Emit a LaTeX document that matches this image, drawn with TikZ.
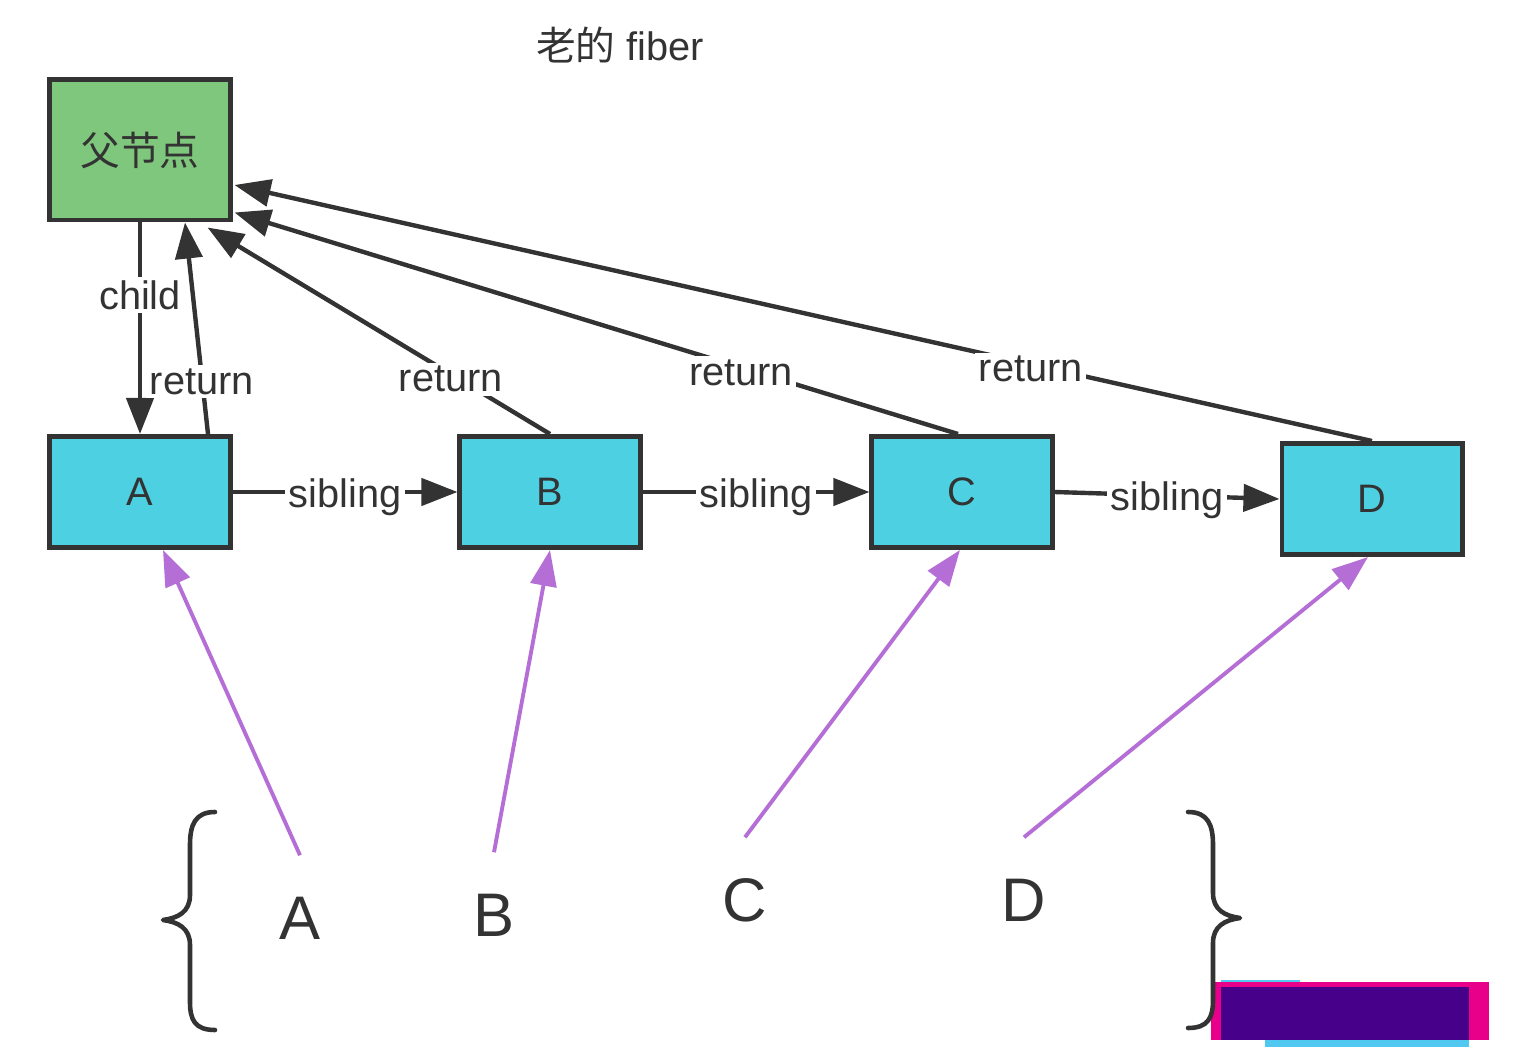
\documentclass[tikz,border=0pt]{standalone}
\usepackage{fontspec}
\setmainfont{Liberation Sans}
\newfontfamily\cjk{Noto Sans CJK SC}
\usetikzlibrary{arrows.meta,calc}
\definecolor{fibergreen}{RGB}{128,199,126}
\definecolor{fibercyan}{RGB}{77,208,225}
\definecolor{linkgray}{RGB}{51,51,51}
\definecolor{mapviolet}{RGB}{180,110,214}
\definecolor{markpink}{RGB}{232,0,138}
\definecolor{markindigo}{RGB}{70,0,138}
\definecolor{marksky}{RGB}{80,200,240}
\begin{document}
\begin{tikzpicture}[x=0.01cm, y=-0.01cm,
  fiber/.style={draw=linkgray, line width=1.4pt, fill=fibercyan, minimum width=1.8cm, minimum height=1.11cm, inner sep=0pt, text=linkgray, font=\fontsize{11.3}{13}\selectfont},
  link/.style={-{Triangle[length=0.36cm,width=0.27cm]}, draw=linkgray, line width=1.25pt},
  tag/.style={fill=white, inner sep=1pt, yshift=-0.05cm, text=linkgray, font=\fontsize{11.3}{13}\selectfont},
  elem/.style={inner sep=0pt, minimum height=1.24cm, text=linkgray, font=\fontsize{17.5}{20}\selectfont},
  map/.style={-{Triangle[length=0.36cm,width=0.26cm]}, draw=mapviolet, line width=1.1pt},
  brace/.style={draw=linkgray, line width=1.3pt, line cap=round, line join=round}]
\useasboundingbox (0,0) rectangle (1530,1064);
\node (title) at (620,45) [text=linkgray, font=\fontsize{11.3}{13}\selectfont] {{\cjk 老的} fiber};
\node (parent) at (140,150) [fiber, fill=fibergreen, minimum height=1.4cm] {{\cjk 父节点}};
\node (A) at (140,492) [fiber] {A};
\node (B) at (550,492) [fiber] {B};
\node (C) at (962,492) [fiber] {C};
\node (D) at (1372,499) [fiber] {D};
\node (elemA) at (300,918) [elem] {A};
\node (elemB) at (494,915) [elem] {B};
\node (elemC) at (745,900) [elem] {C};
\node (elemD) at (1024,900) [elem] {D};
% child and return links
\draw [link] (parent.south) -- node [tag, pos=0.32] {child} (A.north);
\draw [link] ($(A.north)+(68,0)$) -- node [tag, pos=0.27] {return} ($(parent.south)+(45,0)$);
\draw [link] (B.north) -- node [tag, pos=0.29] {return} ($(parent.south east)+(-25,5)$);
\draw [link] ($(C.north)+(-4,0)$) -- node [tag, pos=0.3] {return} ($(parent.south east)+(2,-10)$);
\draw [link] (D.north) -- node [tag, pos=0.3] {return} ($(parent.east)+(2,35)$);
% sibling links
\draw [link] (A) -- node [tag] {sibling} (B);
\draw [link] (B) -- node [tag] {sibling} (C);
\draw [link] (C.east) -- node [tag] {sibling} (D.west);
% new elements to old fibers
\draw [map] (elemA.north) -- ($(A.south)+(23,0)$);
\draw [map] (elemB.north) -- (B.south);
\draw [map] (elemC.north) -- ($(C.south)+(-2,0)$);
\draw [map] (elemD.north) -- ($(D.south)+(-4,0)$);
% covered corner
\fill [marksky] (1221,980) rectangle (1300,990);
\fill [marksky] (1265,1030) rectangle (1469,1047);
\fill [markpink] (1211,982) rectangle (1489,1040);
\fill [markindigo] (1221,987) rectangle (1469,1040);
% braces
\draw [brace] (215,812) .. controls (195,812) and (190,825) .. (190,845) -- (190,895) .. controls (190,912) and (178,918) .. (163,920) .. controls (178,922) and (190,928) .. (190,945) -- (190,1002) .. controls (190,1020) and (195,1030) .. (215,1030);
\draw [brace] (1188,812) .. controls (1208,812) and (1213,825) .. (1213,845) -- (1213,893) .. controls (1213,910) and (1225,916) .. (1240,918) .. controls (1225,920) and (1213,926) .. (1213,943) -- (1213,1000) .. controls (1213,1018) and (1208,1028) .. (1188,1028);
\end{tikzpicture}
\end{document}
